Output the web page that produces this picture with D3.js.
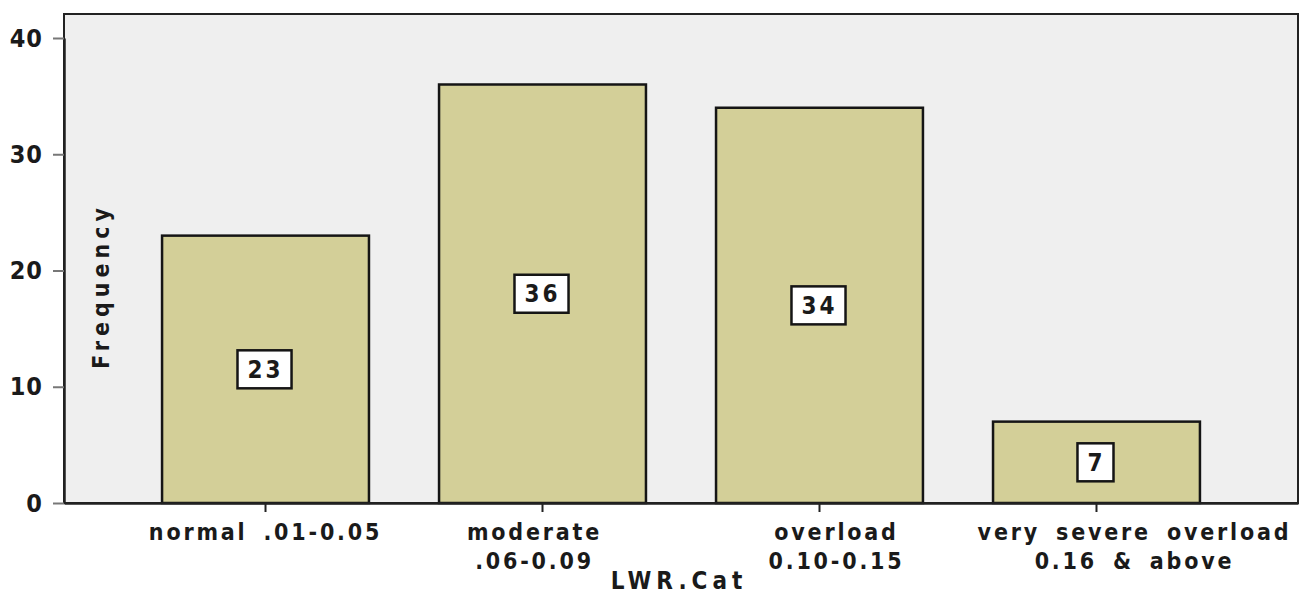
<!DOCTYPE html>
<html>
<head>
<meta charset="utf-8">
<script src="https://cdn.jsdelivr.net/npm/d3@7"></script>
<style>
  html, body { margin: 0; padding: 0; background: #ffffff; }
  svg { display: block; }
  text { font-family: "DejaVu Sans Condensed", "DejaVu Sans", sans-serif; font-weight: bold; fill: #1a1a1a; }
</style>
</head>
<body>
<svg id="chart" width="1306" height="594"></svg>
<script>
// LWR category frequencies
const categories = ["normal .01-0.05", "moderate .06-0.09", "overload 0.10-0.15", "very severe overload 0.16 & above"];
const categoryLines = [["normal .01-0.05"], ["moderate", ".06-0.09"], ["overload", "0.10-0.15"], ["very severe overload", "0.16 & above"]];
const frequencies = [23, 36, 34, 7];
const yTicks = [0, 10, 20, 30, 40];

// horizontal nudge of each category label relative to its tick
const labelShift = [0, -8, 17, 38];

const svg = d3.select("#chart");
const plot = { left: 64, right: 1298, top: 14, bottom: 503 };
const fontFamily = "DejaVu Sans Condensed, DejaVu Sans, sans-serif";

const x = d3.scaleBand()
  .domain(categories)
  .range([plot.left, plot.right])
  .paddingInner(0.253)
  .paddingOuter(0.354);

const y = d3.scaleLinear()
  .domain([0, 40])
  .range([plot.bottom, 38]);

// plot background
svg.append("rect")
  .attr("x", plot.left).attr("y", plot.top)
  .attr("width", plot.right - plot.left).attr("height", plot.bottom - plot.top)
  .attr("fill", "#efefef")
  .attr("stroke", "#222").attr("stroke-width", 2);

// bars
svg.append("g").selectAll("rect")
  .data(frequencies)
  .join("rect")
  .attr("x", (d, i) => x(categories[i]))
  .attr("y", d => y(d))
  .attr("width", x.bandwidth())
  .attr("height", d => y(0) - y(d))
  .attr("fill", "#d3cf98")
  .attr("stroke", "#151515")
  .attr("stroke-width", 2.5);

// value labels in boxes at mid-height of each bar
const labels = svg.append("g").selectAll("g")
  .data(frequencies)
  .join("g")
  .attr("transform", (d, i) => `translate(${x(categories[i]) + x.bandwidth() / 2},${y(d / 2)})`);

labels.append("text")
  .attr("text-anchor", "middle")
  .attr("dy", "0.36em")
  .attr("font-size", 24)
  .attr("letter-spacing", 3)
  .text(d => d)
  .each(function () {
    const b = this.getBBox();
    d3.select(this.parentNode).insert("rect", "text")
      .attr("x", b.x - 10).attr("y", -19)
      .attr("width", b.width + 18).attr("height", 38)
      .attr("fill", "#ffffff")
      .attr("stroke", "#151515")
      .attr("stroke-width", 2.5);
  });

// y axis
const yAxis = svg.append("g")
  .attr("transform", `translate(${plot.left},0)`)
  .call(d3.axisLeft(y).tickValues(yTicks).tickSize(11).tickSizeOuter(0).tickPadding(10));
yAxis.select(".domain").attr("stroke", "#222").attr("stroke-width", 2.5);
yAxis.selectAll(".tick line").attr("stroke", "#777").attr("stroke-width", 2);
yAxis.selectAll(".tick text")
  .attr("font-size", 25)
  .attr("letter-spacing", 1)
  .attr("fill", "#1a1a1a")
  .attr("font-family", fontFamily)
  .attr("font-weight", "bold");

// x axis
const xAxis = svg.append("g")
  .attr("transform", `translate(0,${plot.bottom})`)
  .call(d3.axisBottom(x).tickSize(9).tickSizeOuter(0).tickFormat(""));
xAxis.select(".domain").attr("stroke", "#222").attr("stroke-width", 2.5);
xAxis.selectAll(".tick line").attr("stroke", "#222").attr("stroke-width", 2);

// category labels
const catLabels = svg.append("g").selectAll("text")
  .data(categories)
  .join("text")
  .attr("text-anchor", "middle")
  .attr("font-size", 23)
  .attr("letter-spacing", 2.8)
  .attr("word-spacing", 6)
  .attr("transform", (d, i) => `translate(${x(d) + x.bandwidth() / 2 + labelShift[i]},540)`);
catLabels.selectAll("tspan")
  .data((d, i) => categoryLines[i])
  .join("tspan")
  .attr("x", 0)
  .attr("dy", (d, j) => j === 0 ? 0 : 29)
  .text(d => d);

// axis titles
svg.append("text")
  .attr("text-anchor", "middle")
  .attr("font-size", 24)
  .attr("letter-spacing", 5)
  .attr("x", 679).attr("y", 589)
  .text("LWR.Cat");

svg.append("text")
  .attr("text-anchor", "middle")
  .attr("font-size", 23)
  .attr("letter-spacing", 5)
  .attr("transform", "translate(109,286) rotate(-90)")
  .text("Frequency");
</script>
</body>
</html>
